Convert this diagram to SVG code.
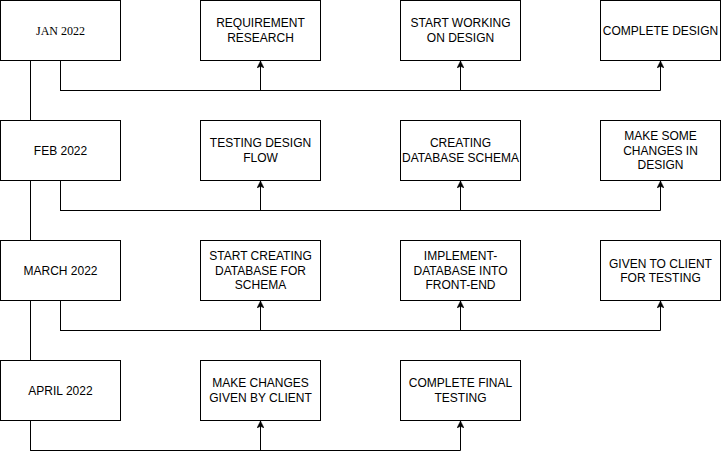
<svg xmlns="http://www.w3.org/2000/svg" width="721" height="459" viewBox="0 0 721 459">
<style>
.box{fill:#fff;stroke:#000;stroke-width:1}
.t{font-family:"Liberation Sans",Arial,sans-serif;font-size:12px;fill:#000;text-anchor:middle}
.serif{font-family:"Liberation Serif","Times New Roman",serif}
.c{fill:none;stroke:#000;stroke-width:1}
.a{marker-end:url(#arr)}
</style>
<defs>
<marker id="arr" viewBox="0 0 7 7" refX="7" refY="3.5" markerWidth="7" markerHeight="7" markerUnits="userSpaceOnUse" orient="auto">
<path d="M7 3.5 L0 0 L1.75 3.5 L0 7 Z" fill="#000" stroke="#000" stroke-width="0.5"/>
</marker>
</defs>
<rect width="721" height="459" fill="#fff"/>
<g id="connectors">
<path class="c" d="M30.5 60.5 V120.5"/>
<path class="c" d="M30.5 180.5 V240.5"/>
<path class="c" d="M30.5 300.5 V360.5"/>
<path class="c a" d="M60.5 60.5 V90.5 H260.5 V61"/>
<path class="c a" d="M60.5 60.5 V90.5 H460.5 V61"/>
<path class="c a" d="M60.5 60.5 V90.5 H660.5 V61"/>
<path class="c a" d="M60.5 180.5 V210.5 H260.5 V181"/>
<path class="c a" d="M60.5 180.5 V210.5 H460.5 V181"/>
<path class="c a" d="M60.5 180.5 V210.5 H660.5 V181"/>
<path class="c a" d="M60.5 300.5 V330.5 H260.5 V301"/>
<path class="c a" d="M60.5 300.5 V330.5 H460.5 V301"/>
<path class="c a" d="M60.5 300.5 V330.5 H660.5 V301"/>
<path class="c a" d="M30.5 420.5 V450.5 H260.5 V421"/>
<path class="c a" d="M30.5 420.5 V450.5 H460.5 V421"/>
</g>
<g id="jan"><rect class="box" x="0.5" y="0.5" width="120" height="60"/><text class="t serif" x="60.5" y="34.5">JAN 2022</text></g>
<g id="req"><rect class="box" x="200.5" y="0.5" width="120" height="60"/><text class="t" x="260.5" y="27.3">REQUIREMENT</text><text class="t" x="260.5" y="41.7">RESEARCH</text></g>
<g id="startdesign"><rect class="box" x="400.5" y="0.5" width="120" height="60"/><text class="t" x="460.5" y="27.3">START WORKING</text><text class="t" x="460.5" y="41.7">ON DESIGN</text></g>
<g id="completedesign"><rect class="box" x="600.5" y="0.5" width="120" height="60"/><text class="t" x="660.5" y="34.5">COMPLETE DESIGN</text></g>
<g id="feb"><rect class="box" x="0.5" y="120.5" width="120" height="60"/><text class="t" x="60.5" y="154.5">FEB 2022</text></g>
<g id="testflow"><rect class="box" x="200.5" y="120.5" width="120" height="60"/><text class="t" x="260.5" y="147.3">TESTING DESIGN</text><text class="t" x="260.5" y="161.7">FLOW</text></g>
<g id="dbschema"><rect class="box" x="400.5" y="120.5" width="120" height="60"/><text class="t" x="460.5" y="147.3">CREATING</text><text class="t" x="460.5" y="161.7">DATABASE SCHEMA</text></g>
<g id="changes"><rect class="box" x="600.5" y="120.5" width="120" height="60"/><text class="t" x="660.5" y="140.1">MAKE SOME</text><text class="t" x="660.5" y="154.5">CHANGES IN</text><text class="t" x="660.5" y="168.9">DESIGN</text></g>
<g id="march"><rect class="box" x="0.5" y="240.5" width="120" height="60"/><text class="t" x="60.5" y="274.5">MARCH 2022</text></g>
<g id="createdb"><rect class="box" x="200.5" y="240.5" width="120" height="60"/><text class="t" x="260.5" y="260.1">START CREATING</text><text class="t" x="260.5" y="274.5">DATABASE FOR</text><text class="t" x="260.5" y="288.9">SCHEMA</text></g>
<g id="implement"><rect class="box" x="400.5" y="240.5" width="120" height="60"/><text class="t" x="460.5" y="260.1">IMPLEMENT-</text><text class="t" x="460.5" y="274.5">DATABASE INTO</text><text class="t" x="460.5" y="288.9">FRONT-END</text></g>
<g id="client"><rect class="box" x="600.5" y="240.5" width="120" height="60"/><text class="t" x="660.5" y="267.6">GIVEN TO CLIENT</text><text class="t" x="660.5" y="282">FOR TESTING</text></g>
<g id="april"><rect class="box" x="0.5" y="360.5" width="120" height="60"/><text class="t" x="60.5" y="394.5">APRIL 2022</text></g>
<g id="makechanges"><rect class="box" x="200.5" y="360.5" width="120" height="60"/><text class="t" x="260.5" y="387.3">MAKE CHANGES</text><text class="t" x="260.5" y="401.7">GIVEN BY CLIENT</text></g>
<g id="finaltest"><rect class="box" x="400.5" y="360.5" width="120" height="60"/><text class="t" x="460.5" y="387.3">COMPLETE FINAL</text><text class="t" x="460.5" y="401.7">TESTING</text></g>
</svg>
